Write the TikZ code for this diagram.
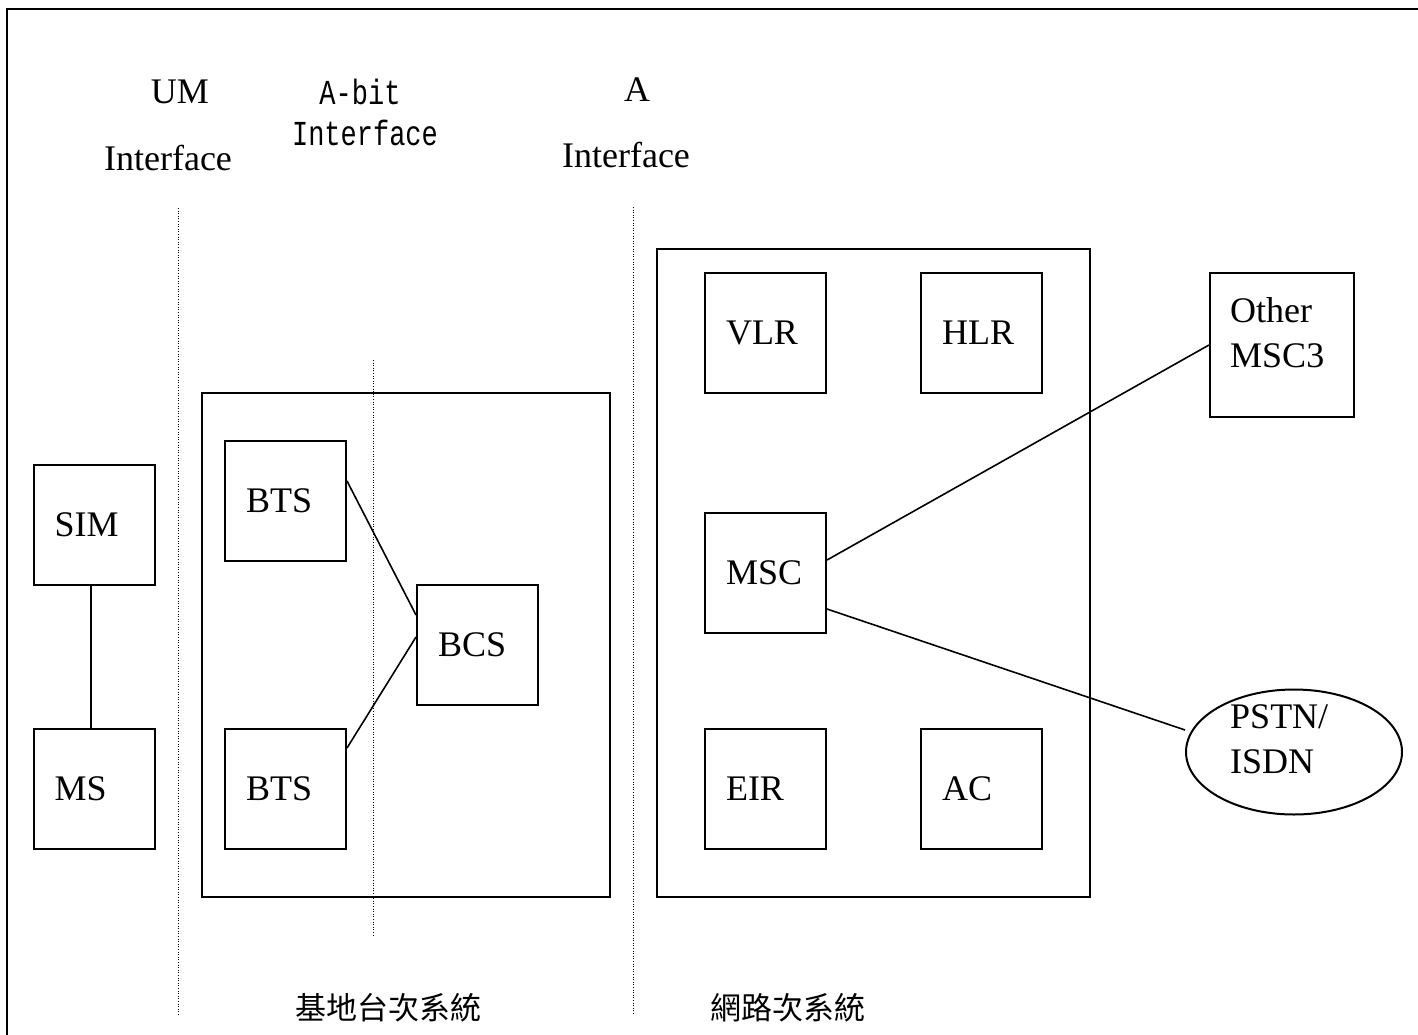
\documentclass[tikz,border=0pt]{standalone}
\usepackage{fontspec}
\setmainfont{Liberation Serif}
\newfontfamily\cjkfont{Noto Sans CJK TC}
\newfontfamily\monofont{Liberation Mono}
\usetikzlibrary{shapes.geometric}
\begin{document}
\begin{tikzpicture}[x=1pt,y=-1pt,
  big/.style={font=\fontsize{36}{45}\selectfont},
  mono/.style={font=\monofont\fontsize{27}{32}\selectfont},
  cjk/.style={font=\cjkfont\fontsize{31}{36}\selectfont},
  box/.style={draw, line width=2pt, minimum width=121pt, minimum height=120pt,
    text width=79pt, inner xsep=21pt, inner ysep=0pt, align=left, big},
  frame/.style={draw, line width=2pt},
  sep/.style={line width=1pt, dash pattern=on 1pt off 1.6pt},
  conn/.style={line width=1.6pt}]
\useasboundingbox (0,0) rectangle (1418,1035);
\begin{scope}
\clip (0,0) rectangle (1418,1035);
\draw[line width=2.8pt] (7,9) rectangle (1430,1050);
\end{scope}

% interface labels
\node[big] (um1) at (180,92) {UM};
\node[big] (um2) at (168,158) {Interface};
\node[mono] (ab1) at (360,92) {\scalebox{1}[1.3]{A-bit}};
\node[mono] (ab2) at (365,133) {\scalebox{1}[1.3]{Interface}};
\node[big] (a1) at (637,90) {A};
\node[big] (a2) at (626,155) {Interface};

% separators
\coordinate (s1a) at (178,208); \coordinate (s1b) at (178,1015);
\coordinate (s2a) at (633,207); \coordinate (s2b) at (633,1015);
\coordinate (s3a) at (373,360); \coordinate (s3b) at (373,935);
\draw[sep] (s1a) -- (s1b);
\draw[sep] (s2a) -- (s2b);
\draw[sep] (s3a) -- (s3b);

% subsystem frames
\node[frame, minimum width=408pt, minimum height=504pt, inner sep=0] (bss) at (406,645) {};
\node[frame, minimum width=433pt, minimum height=648pt, inner sep=0] (nss) at (873.5,573) {};

% mobile
\node[box] (sim) at (94,525) {SIM};
\node[box] (ms) at (94,789) {MS};

% BSS
\node[box] (bts1) at (285.5,501) {BTS};
\node[box] (bts2) at (285.5,789) {BTS};
\node[box] (bcs) at (477.5,645) {BCS};

% NSS
\node[box] (vlr) at (765.5,333) {VLR};
\node[box] (hlr) at (981.5,333) {HLR};
\node[box] (msc) at (765.5,573) {MSC};
\node[box] (eir) at (765.5,789) {EIR};
\node[box] (ac) at (981.5,789) {AC};

% external
\node[draw, line width=2pt, minimum width=144pt, minimum height=144pt, inner sep=0] (omsc) at (1282,345) {};
\node[big, anchor=west, align=left, inner sep=0] (omsct) at (1230,333) {Other\\MSC3};
\node[draw, ellipse, line width=2pt, minimum width=216pt, minimum height=125pt, inner sep=0] (pstn) at (1294,752) {};
\node[big, anchor=west, align=left, inner sep=0] (pstnt) at (1230,739) {PSTN/\\ISDN};

% connectors
\draw[conn] ([xshift=-3pt]sim.south) -- ([xshift=-3pt]ms.north);
\draw[conn] ([yshift=20pt]bts1.east) -- ([yshift=30pt]bcs.west);
\draw[conn] ([yshift=41pt]bts2.east) -- ([yshift=8pt]bcs.west);
\draw[conn] ([yshift=13pt]msc.east) -- (omsc.west);
\draw[conn] ([yshift=-36pt]msc.east) -- ([yshift=22pt]pstn.west);

% bottom labels
\node[cjk] (bsslbl) at (388,1008) {基地台次系統};
\node[cjk] (nsslbl) at (788,1008) {網路次系統};
\end{tikzpicture}
\end{document}
